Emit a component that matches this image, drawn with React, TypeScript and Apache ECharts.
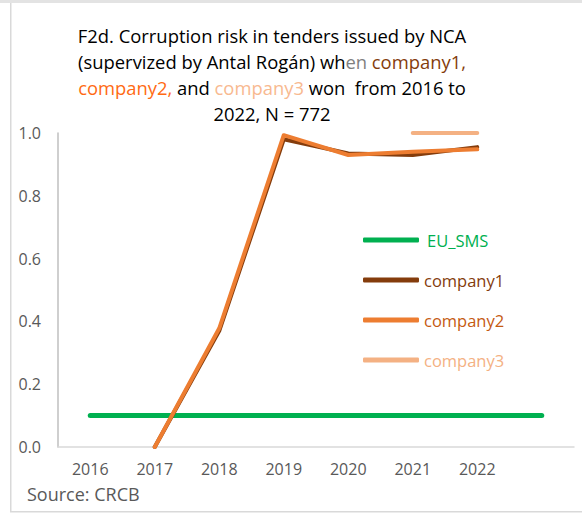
import React, { useEffect, useRef } from "react";
import * as echarts from "echarts";

const categories = ["2016", "2017", "2018", "2019", "2020", "2021", "2022", ""];
const euSms = [0.1, 0.1, 0.1, 0.1, 0.1, 0.1, 0.1, 0.1];
const company1 = [null, 0, 0.37, 0.98, 0.935, 0.93, 0.955, null];
const company2 = [null, 0, 0.378, 0.993, 0.93, 0.94, 0.948, null];
const company3 = [null, null, null, null, null, 1.0, 1.0, null];
const yTicks = [0, 0.2, 0.4, 0.6, 0.8, 1.0];

const FONT = "Open Sans";
const TFS = 18.4;

export default function App() {
  const ref = useRef<HTMLDivElement>(null);
  useEffect(() => {
    if (!ref.current) return;
    const chart = echarts.init(ref.current, undefined, { renderer: "svg" });
    const lineSeries = (name: string, data: (number | null)[], color: string, width: number) => ({
      name,
      type: "line",
      data,
      symbol: "none",
      connectNulls: false,
      lineStyle: { color, width, cap: "round", join: "round" },
      itemStyle: { color },
    });
    const rs = (color: string) => ({ color, fontSize: TFS, lineHeight: 26, fontFamily: FONT });
    chart.setOption({
      animation: false,
      backgroundColor: "#ffffff",
      textStyle: { fontFamily: FONT },
      title: {
        left: 272,
        top: 22,
        textAlign: "center",
        padding: 0,
        text:
          "{b|F2d. Corruption risk in tenders issued by NCA}\n" +
          "{b|(supervized by Antal Rogán) wh}{g|en }{c1|company1,}\n" +
          "{c2|company2,}{b| and }{c3|company3}{b| won  from 2016 to}\n" +
          "{b|2022, N = 772}",
        textStyle: {
          fontFamily: FONT,
          fontSize: TFS,
          lineHeight: 26,
          fontWeight: "normal",
          color: "#000000",
          rich: {
            b: rs("#000000"),
            g: rs("#7f7f7f"),
            c1: rs("#843C0C"),
            c2: rs("#FF6A13"),
            c3: rs("#F8B990"),
          },
        },
      },
      legend: {
        orient: "vertical",
        left: 363,
        top: 230,
        padding: 0,
        itemWidth: 56,
        itemHeight: 5,
        itemGap: 20,
        icon: "roundRect",
        selectedMode: false,
        textStyle: { fontFamily: FONT, fontSize: 16.5, lineHeight: 20 },
        data: [
          { name: "EU_SMS", itemStyle: { color: "#00B050" }, textStyle: { color: "#00B050", padding: [0, 0, 0, 3] } },
          { name: "company1", itemStyle: { color: "#843C0C" }, textStyle: { color: "#843C0C" } },
          { name: "company2", itemStyle: { color: "#ED7D31" }, textStyle: { color: "#C55A11" } },
          { name: "company3", itemStyle: { color: "#F4B183" }, textStyle: { color: "#F4B183" } },
        ],
      },
      grid: { left: 58, right: 8, top: 133, bottom: 67, containLabel: false },
      xAxis: {
        type: "category",
        data: categories,
        boundaryGap: true,
        axisLine: { show: true, lineStyle: { color: "#d9d9d9", width: 1.5 } },
        axisTick: { show: false },
        axisLabel: { color: "#595959", fontSize: 16, fontFamily: FONT, margin: 14 },
        splitLine: { show: false },
      },
      yAxis: {
        type: "value",
        min: yTicks[0],
        max: yTicks[yTicks.length - 1],
        interval: 0.2,
        axisLine: { show: true, lineStyle: { color: "#bfbfbf", width: 1.5 } },
        axisTick: { show: false },
        splitLine: { show: false },
        axisLabel: {
          color: "#595959",
          fontSize: 16,
          fontFamily: FONT,
          margin: 17,
          formatter: (v: number) => v.toFixed(1),
        },
      },
      graphic: [
        { type: "rect", left: 0, top: 0, shape: { width: 582, height: 3 }, style: { fill: "#e3e3e3" }, silent: true },
        { type: "rect", left: 10, top: 3, shape: { width: 1.5, height: 509 }, style: { fill: "#d9d9d9" }, silent: true },
        { type: "rect", left: 10, top: 511, shape: { width: 572, height: 1.5 }, style: { fill: "#d9d9d9" }, silent: true },
        {
          type: "text",
          left: 27,
          top: 485,
          style: { text: "Source: CRCB", fill: "#595959", fontSize: 18, fontFamily: FONT },
          silent: true,
        },
      ],
      series: [
        lineSeries("EU_SMS", euSms, "#00B050", 5),
        lineSeries("company1", company1, "#843C0C", 4),
        lineSeries("company2", company2, "#ED7D31", 4),
        lineSeries("company3", company3, "#F4B183", 4),
      ],
    });
    return () => chart.dispose();
  }, []);
  return <div ref={ref} style={{ position: "fixed", left: 0, top: 0, width: 582, height: 514 }} />;
}
